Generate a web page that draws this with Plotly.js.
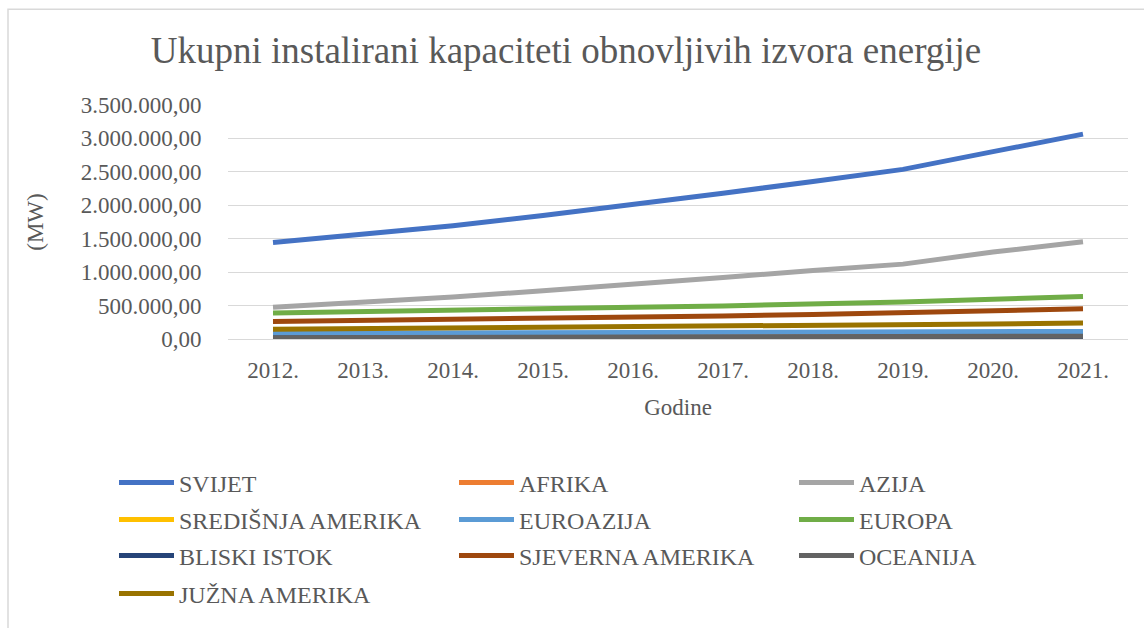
<!DOCTYPE html>
<html>
<head>
<meta charset="utf-8">
<script src="https://cdn.plot.ly/plotly-3.0.1.min.js"></script>
<style>
  html, body { margin: 0; padding: 0; background: #fff; }
  #chart { width: 1144px; height: 628px; }
</style>
</head>
<body>
<div id="chart"></div>
<script>
const years = ['2012.', '2013.', '2014.', '2015.', '2016.', '2017.', '2018.', '2019.', '2020.', '2021.'];

const seriesNames = ['SVIJET', 'AFRIKA', 'AZIJA', 'SREDIŠNJA AMERIKA', 'EUROAZIJA', 'EUROPA', 'BLISKI ISTOK', 'SJEVERNA AMERIKA', 'OCEANIJA', 'JUŽNA AMERIKA'];

const svijet = [1443000, 1563000, 1693000, 1848000, 2011000, 2180000, 2357000, 2537000, 2802000, 3064000];
const afrika = [29000, 31000, 33000, 37000, 41000, 45000, 49000, 51000, 54000, 56000];
const azija = [475000, 550000, 630000, 720000, 815000, 920000, 1025000, 1120000, 1300000, 1455000];
const sredisnjaAmerika = [11000, 12000, 12500, 13500, 14500, 15000, 15500, 16000, 16500, 17000];
const euroazija = [83000, 86000, 88000, 91000, 94000, 97000, 100000, 104000, 109000, 113000];
const europa = [390000, 415000, 435000, 455000, 475000, 495000, 520000, 555000, 595000, 637000];
const bliskiIstok = [14000, 15000, 15500, 16500, 17500, 19000, 21000, 22500, 24000, 26000];
const sjevernaAmerika = [262000, 275000, 290000, 305000, 325000, 345000, 365000, 390000, 420000, 452000];
const oceanija = [19000, 20000, 21000, 22000, 24000, 26000, 29000, 33000, 38000, 43000];
const juznaAmerika = [147000, 155000, 165000, 175000, 185000, 195000, 205000, 215000, 225000, 240000];

const seriesValues = [svijet, afrika, azija, sredisnjaAmerika, euroazija, europa, bliskiIstok, sjevernaAmerika, oceanija, juznaAmerika];
const colors = ['#4472C4', '#ED7D31', '#A5A5A5', '#FFC000', '#5B9BD5', '#70AD47', '#264478', '#9E480E', '#636363', '#997300'];

const font = 'Liberation Serif';
const textColor = '#595959';
const legendColsX = [114, 454, 794];
const legendRowsY = [483, 520, 556, 594];

function legendId(i) { return i === 0 ? 'legend' : 'legend' + (i + 1); }

const traces = seriesNames.map((name, i) => ({
  type: 'scatter',
  mode: 'lines',
  name: name,
  x: years,
  y: seriesValues[i],
  line: { color: colors[i], width: 5 },
  legend: legendId(i),
  hoverinfo: 'skip'
}));

function legendAt(i) {
  const col = i % 3, row = Math.floor(i / 3);
  return {
    orientation: 'h',
    x: legendColsX[col] / 1144, xref: 'container',
    y: 1 - legendRowsY[row] / 628, yref: 'container',
    xanchor: 'left', yanchor: 'middle',
    itemwidth: 55,
    font: { family: font, size: 24, color: textColor },
    bgcolor: 'rgba(0,0,0,0)'
  };
}

const layout = {
  width: 1144,
  height: 628,
  paper_bgcolor: '#ffffff',
  plot_bgcolor: '#ffffff',
  separators: ',.',
  margin: { l: 228, r: 16, t: 105, b: 288.5 },
  font: { family: font, color: textColor, size: 23 },
  title: {
    text: 'Ukupni instalirani kapaciteti obnovljivih izvora energije',
    font: { family: font, size: 37, color: textColor },
    x: 566 / 1144, xref: 'container', xanchor: 'center',
    y: 1 - 50 / 628, yref: 'container', yanchor: 'middle'
  },
  xaxis: {
    type: 'category',
    range: [-0.5, 9.5],
    showgrid: false,
    zeroline: false,
    showline: true,
    linecolor: '#d9d9d9',
    linewidth: 1,
    ticks: 'outside',
    ticklen: 10,
    tickcolor: 'rgba(0,0,0,0)',
    tickfont: { family: font, size: 23, color: textColor },
    title: { text: 'Godine', font: { family: font, size: 23, color: textColor }, standoff: 17 }
  },
  yaxis: {
    range: [0, 3500000],
    tickvals: [0, 500000, 1000000, 1500000, 2000000, 2500000, 3000000, 3500000],
    tickformat: ',.2f',
    showgrid: true,
    gridcolor: '#d9d9d9',
    gridwidth: 1,
    zeroline: false,
    showline: false,
    ticks: 'outside',
    ticklen: 21,
    tickcolor: 'rgba(0,0,0,0)',
    tickfont: { family: font, size: 23, color: textColor },
    title: { text: '(MW)', font: { family: font, size: 23, color: textColor }, standoff: 30 }
  },
  showlegend: true,
  shapes: [{
    type: 'rect', xref: 'paper', yref: 'paper',
    x0: -220 / 900, x1: 1.2, y0: -2, y1: (628 - 9 - 288.5) / (628 - 105 - 288.5),
    line: { color: '#d9d9d9', width: 1.5 },
    fillcolor: 'rgba(0,0,0,0)',
    layer: 'below'
  }]
};

seriesNames.forEach((n, i) => { layout[legendId(i)] = legendAt(i); });

Plotly.newPlot('chart', traces, layout, { displayModeBar: false, staticPlot: true });
</script>
</body>
</html>
